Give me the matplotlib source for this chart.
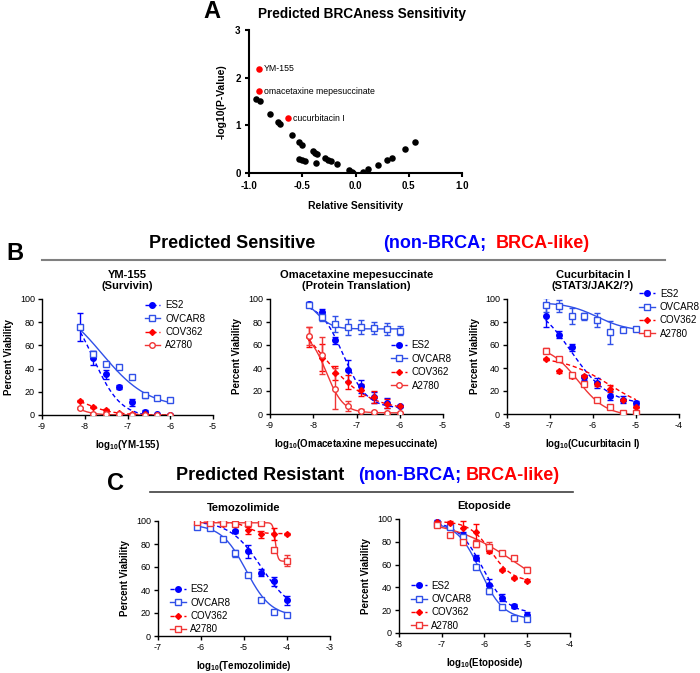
import matplotlib
matplotlib.use('Agg')
import matplotlib.pyplot as plt
from matplotlib.lines import Line2D
import numpy as np

plt.rcParams['font.family'] = ['Liberation Sans', 'DejaVu Sans']
plt.rcParams['axes.unicode_minus'] = False
plt.rcParams['mathtext.default'] = 'regular'

BLUE = '#0000ff'
BLUE2 = '#3050e8'
RED = '#ff0000'
RED2 = '#f03535'

# ---- panel A: volcano-like scatter ----
a_x = [-0.93, -0.90, -0.805, -0.727, -0.71, -0.595, -0.53, -0.507, -0.53, -0.507,
       -0.475, -0.403, -0.38, -0.36, -0.375, -0.287, -0.256, -0.23, -0.177, -0.058,
       -0.036, -0.02, 0.074, 0.12, 0.21, 0.30, 0.34, 0.463, 0.56]
a_y = [1.56, 1.51, 1.23, 1.07, 1.03, 0.80, 0.66, 0.59, 0.29, 0.28,
       0.25, 0.47, 0.43, 0.39, 0.20, 0.32, 0.28, 0.245, 0.19, 0.056,
       0.02, 0.007, 0.028, 0.084, 0.175, 0.27, 0.32, 0.50, 0.65]
hit_names = ['YM-155', 'omacetaxine mepesuccinate', 'cucurbitacin I']
hit_x = [-0.906, -0.906, -0.63]
hit_y = [2.19, 1.72, 1.15]

lines = ['ES2', 'OVCAR8', 'COV362', 'A2780']

# ---- panel B1: YM-155 ----
ym_x = [-8.1, -7.8, -7.5, -7.2, -6.9, -6.6, -6.3, -6.0]
ym_y = {'ES2': [76, 49, 35, 24, 11, 3, 0.5, 0.2],
        'OVCAR8': [76, 53, 44, 41, 33, 17, 15, 13],
        'COV362': [12, 7, 4, 1.5, 0.8, 0.5, 0.3, 0.3],
        'A2780': [6, 1, 0.5, 0.5, 0.3, 0.2, 0.2, 0.2]}
ym_err = {'ES2': [12, 6, 4, 1.5, 3, 1, 0.5, 0.5],
          'OVCAR8': [2, 2, 1, 1, 1, 2, 1, 1],
          'COV362': [1, 1, 1, 0.5, 0.5, 0.3, 0.3, 0.3],
          'A2780': [1, 0.5, 0.3, 0.3, 0.3, 0.2, 0.2, 0.2]}
ym_fit = {'ES2': (100, -2, -7.8, 1.35), 'OVCAR8': (100, 6, -7.6, 0.8),
          'COV362': (20, 0, -8.0, 1.3), 'A2780': (20, 0, -8.35, 2.0)}

# ---- panel B2: omacetaxine ----
om_x = [-8.1, -7.8, -7.5, -7.2, -6.9, -6.6, -6.3, -6.0]
om_y = {'ES2': [96, 89, 64, 38, 24, 14.5, 9.5, 7],
        'OVCAR8': [95, 84, 78, 76, 75.5, 75, 74, 72.5],
        'COV362': [67, 49, 36, 28, 21, 15, 9, 7],
        'A2780': [68, 51, 22, 7, 3, 1.5, 1, 1]}
om_err = {'ES2': [1, 2, 3, 9, 6, 5, 4, 1],
          'OVCAR8': [2, 3, 7, 7, 6, 5, 5, 4],
          'COV362': [9, 12, 6, 6, 5, 5, 4, 1],
          'A2780': [8, 16, 18, 4, 1, 1, 0.5, 0.5]}
om_fit = {'ES2': (97, 5, -7.3, 1.6), 'OVCAR8': (100, 74, -7.9, 2.5),
          'COV362': (100, 3, -7.8, 0.8), 'A2780': (72, 1, -7.7, 2.2)}

# ---- panel B3: cucurbitacin I ----
cu_x = [-7.1, -6.8, -6.5, -6.2, -5.9, -5.6, -5.3, -5.0]
cu_y = {'ES2': [85, 69, 58, 32, 27, 16, 12.5, 9.5],
        'OVCAR8': [95, 94, 85, 85, 82, 71, 73, 73.5],
        'COV362': [48, 37, 33, 33, 26, 22, 12, 6],
        'A2780': [55, 48, 34, 26, 12, 6, 0.5, 0.5]}
cu_err = {'ES2': [9, 3, 3, 2, 4, 4, 3, 2],
          'OVCAR8': [6, 5, 7, 3, 6, 10, 1, 1],
          'COV362': [1, 1, 2, 1, 2, 3, 1, 1],
          'A2780': [2, 1, 1, 1, 1, 1, 0.5, 0.5]}
cu_fit = {'ES2': (100, 8, -6.5, 1.0), 'OVCAR8': (97, 72, -5.9, 1.2),
          'COV362': (50, 0, -5.6, 0.8), 'A2780': (60, -2, -6.35, 1.3)}

# ---- panel C1: temozolimide ----
tm_x = [-6.1, -5.8, -5.5, -5.2, -4.9, -4.6, -4.3, -4.0]
tm_y = {'ES2': [100, 99, 98.5, 91, 73.5, 55, 47.5, 31],
        'OVCAR8': [95, 94, 84, 72, 53, 31, 20.5, 18],
        'COV362': [99, 99.5, 97, 98.5, 92, 88.5, 88.5, 89],
        'A2780': [99, 98.5, 98, 97, 98.5, 98, 75, 65.5]}
tm_err = {'ES2': [1, 1, 1, 1, 6, 3, 4, 4],
          'OVCAR8': [1, 1, 1, 3, 1, 1, 1, 1],
          'COV362': [1, 1, 1, 1, 3, 3, 5, 1],
          'A2780': [1, 1, 1, 1, 1, 1, 1, 5]}
tm_fit = {'ES2': (100, 20, -4.6, 1.2), 'OVCAR8': (97, 17, -4.95, 1.5),
          'COV362': (99, 89, -4.9, 3.0), 'A2780': (98.5, 65, -4.27, 15.0)}

# ---- panel C2: etoposide ----
et_x = [-7.1, -6.8, -6.5, -6.2, -5.9, -5.6, -5.3, -5.0]
et_y = {'ES2': [97.5, 93, 86, 66, 42, 31, 23.5, 16],
        'OVCAR8': [96, 93, 84, 58, 36.5, 22.5, 13, 12.5],
        'COV362': [97, 96.5, 92.5, 89, 72, 55.5, 48, 46],
        'A2780': [95, 86, 80, 78.5, 75.5, 70, 65.5, 55.5]}
et_err = {'ES2': [2, 2, 3, 2, 5, 3, 2, 2],
          'OVCAR8': [1, 1, 1, 2, 2, 1, 1, 1],
          'COV362': [1, 2, 6, 7, 2, 1, 1, 1],
          'A2780': [1, 2, 1, 3, 4, 2, 1, 2]}
et_fit = {'ES2': (98, 17, -6.05, 1.5), 'OVCAR8': (97, 12, -6.1, 1.6),
          'COV362': (98, 45, -5.85, 1.7), 'A2780': (100, 20, -5.2, 0.55)}


def logistic(x, p):
    top, bottom, c, s = p
    return bottom + (top - bottom) / (1 + 10 ** ((x - c) * s))


def style(name, a2780_marker):
    if name == 'ES2':
        return dict(color=BLUE, marker='o', mfc=BLUE, ls=(0, (3, 2)), ms=4)
    if name == 'OVCAR8':
        return dict(color=BLUE2, marker='s', mfc='white', ls='-', ms=4)
    if name == 'COV362':
        return dict(color=RED, marker='D', mfc=RED, ls=(0, (3, 2)), ms=3)
    return dict(color=RED2, marker=a2780_marker, mfc='white', ls='-', ms=4)


def curve_panel(rect, x, ys, errs, fits, title, xlabel, xlim, a_marker,
                leg_anchor):
    ax = fig.add_axes(rect)
    for name in lines:
        st = style(name, a_marker)
        xf = np.linspace(x[0], x[-1], 200)
        ax.plot(xf, logistic(xf, fits[name]), color=st['color'],
                ls=st['ls'], lw=1.0, zorder=2)
        ax.errorbar(x, ys[name], yerr=errs[name], fmt=st['marker'],
                    color=st['color'], mfc=st['mfc'], mec=st['color'],
                    ms=st['ms'], mew=1.0, elinewidth=1.0, capsize=2.5,
                    capthick=1.0, zorder=3)
    ax.set_xlim(*xlim)
    ax.set_ylim(0, 100)
    ax.set_xticks(np.arange(xlim[0], xlim[1] + 1))
    ax.set_yticks([0, 20, 40, 60, 80, 100])
    for s in ['top', 'right']:
        ax.spines[s].set_visible(False)
    for s in ['left', 'bottom']:
        ax.spines[s].set_linewidth(1.0)
    ax.tick_params(labelsize=6.5, length=3, width=1.0, pad=2)
    ax.set_ylabel('Percent Viability', fontsize=7, fontweight='bold',
                  labelpad=4)
    ax.set_xlabel(xlabel, fontsize=7, fontweight='bold', labelpad=5)
    ax.set_title(title, fontsize=8, fontweight='bold', pad=7,
                 linespacing=1.15)
    handles = []
    for name in lines:
        st = style(name, a_marker)
        handles.append(Line2D([], [], color=st['color'], ls=st['ls'],
                              marker=st['marker'], mfc=st['mfc'],
                              mec=st['color'], ms=st['ms'], lw=1.0))
    ax.legend(handles, lines, loc='upper left', bbox_to_anchor=leg_anchor,
              frameon=False, fontsize=7, handlelength=1.6,
              handletextpad=0.5, labelspacing=0.35, borderaxespad=0,
              borderpad=0)
    return ax


W, H = 700, 673
fig = plt.figure(figsize=(7, 6.73), dpi=100)


def rect(l, r, t, b):
    return [l / W, 1 - b / H, (r - l) / W, (b - t) / H]


# panel A
axA = fig.add_axes(rect(249, 462, 30, 173))
axA.scatter(a_x, a_y, s=22, color='black', zorder=3, linewidths=0)
axA.scatter(hit_x, hit_y, s=22, color=RED, zorder=3, linewidths=0)
for name, hx, hy in zip(hit_names, hit_x, hit_y):
    axA.text(hx + 0.045, hy, name, fontsize=6.3, va='center', ha='left')
axA.set_xlim(-1, 1)
axA.set_ylim(0, 3)
axA.set_xticks([-1.0, -0.5, 0.0, 0.5, 1.0])
axA.set_xticklabels(['-1.0', '-0.5', '0.0', '0.5', '1.0'])
axA.set_yticks([0, 1, 2, 3])
for s in ['top', 'right']:
    axA.spines[s].set_visible(False)
for s in ['left', 'bottom']:
    axA.spines[s].set_linewidth(1.5)
axA.tick_params(labelsize=7, length=3, width=1.5, pad=3)
for lab in axA.get_xticklabels() + axA.get_yticklabels():
    lab.set_fontweight('bold')
axA.set_xlabel('Relative Sensitivity', fontsize=7.5, fontweight='bold',
               labelpad=7)
axA.set_ylabel('-log10(P-Value)', fontsize=7.5, fontweight='bold',
               labelpad=6)
fig.text(362 / W, 1 - 14 / H, 'Predicted BRCAness Sensitivity', fontsize=9.8,
         fontweight='bold', ha='center', va='center')
fig.text(212 / W, 1 - 12 / H, 'A', fontsize=17, fontweight='bold',
         ha='center', va='center')

# panel B headers
fig.text(15 / W, 1 - 254 / H, 'B', fontsize=17, fontweight='bold',
         ha='center', va='center')
fig.text(232 / W, 1 - 243 / H, 'Predicted Sensitive', fontsize=13,
         fontweight='bold', ha='center', va='center')
fig.text(383 / W, 1 - 243 / H, '(non-BRCA;', fontsize=13,
         fontweight='bold', color=BLUE, ha='left', va='center')
fig.text(590 / W, 1 - 243 / H, 'BRCA-like)', fontsize=13,
         fontweight='bold', color=RED, ha='right', va='center')
fig.add_artist(Line2D([42 / W, 665 / W], [1 - 260 / H, 1 - 260 / H],
                      color='#808080', lw=1.5))

curve_panel(rect(42, 213, 299, 415), ym_x, ym_y, ym_err, ym_fit,
            'YM-155\n(Survivin)', r'log$_{10}$(YM-155)', (-9, -5), 'o',
            (0.6, 0.99))
curve_panel(rect(270, 443, 299, 414), om_x, om_y, om_err, om_fit,
            'Omacetaxine mepesuccinate\n(Protein Translation)',
            r'log$_{10}$(Omacetaxine mepesuccinate)', (-9, -5), 'o',
            (0.7, 0.64))
curve_panel(rect(507, 679, 299, 414), cu_x, cu_y, cu_err, cu_fit,
            'Cucurbitacin I\n(STAT3/JAK2/?)',
            r'log$_{10}$(Cucurbitacin I)', (-8, -4), 's', (0.77, 1.09))

# panel C headers
fig.text(115 / W, 1 - 484 / H, 'C', fontsize=17, fontweight='bold',
         ha='center', va='center')
fig.text(260 / W, 1 - 475 / H, 'Predicted Resistant', fontsize=13,
         fontweight='bold', ha='center', va='center')
fig.text(358 / W, 1 - 475 / H, '(non-BRCA;', fontsize=13,
         fontweight='bold', color=BLUE, ha='left', va='center')
fig.text(560 / W, 1 - 475 / H, 'BRCA-like)', fontsize=13,
         fontweight='bold', color=RED, ha='right', va='center')
fig.add_artist(Line2D([150 / W, 573 / W], [1 - 492 / H, 1 - 492 / H],
                      color='#404040', lw=1.2))

curve_panel(rect(158, 330, 521, 636), tm_x, tm_y, tm_err, tm_fit,
            'Temozolimide', r'log$_{10}$(Temozolimide)', (-7, -3), 's',
            (0.07, 0.45))
curve_panel(rect(399, 570, 519, 633), et_x, et_y, et_err, et_fit,
            'Etoposide', r'log$_{10}$(Etoposide)', (-8, -4), 's',
            (0.07, 0.46))

fig.savefig('out.png', dpi=100)
